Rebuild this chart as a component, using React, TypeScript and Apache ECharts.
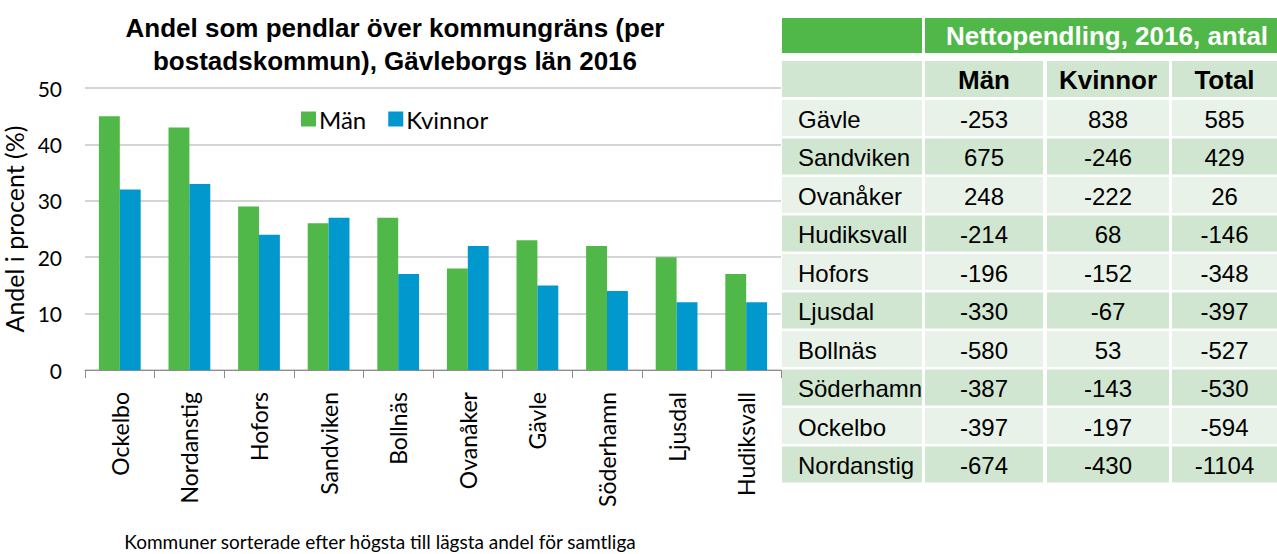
import React, { useEffect, useRef } from "react";
import * as echarts from "echarts";

const categories = ["Ockelbo", "Nordanstig", "Hofors", "Sandviken", "Bollnäs", "Ovanåker", "Gävle", "Söderhamn", "Ljusdal", "Hudiksvall"];
const manValues = [45, 43, 29, 26, 27, 18, 23, 22, 20, 17];
const kvinnorValues = [32, 33, 24, 27, 17, 22, 15, 14, 12, 12];
const yTicks = [0, 10, 20, 30, 40, 50];

const tableTitle = "Nettopendling, 2016, antal";
const tableHeaders = ["Män", "Kvinnor", "Total"];
const tableNames = ["Gävle", "Sandviken", "Ovanåker", "Hudiksvall", "Hofors", "Ljusdal", "Bollnäs", "Söderhamn", "Ockelbo", "Nordanstig"];
const tableMan = [-253, 675, 248, -214, -196, -330, -580, -387, -397, -674];
const tableKvinnor = [838, -246, -222, 68, -152, -67, 53, -143, -197, -430];
const tableTotal = [585, 429, 26, -146, -348, -397, -527, -530, -594, -1104];

const GREEN = "#50b848";
const BLUE = "#0098cd";
const DARK_ROW = "#d1e6d1";
const LIGHT_ROW = "#e9f2e9";
const SANS = "Lato";
const ARIAL = "Liberation Sans";

function buildTable(): any[] {
  const els: any[] = [];
  const colX = [782, 925, 1047, 1172];
  const colR = [922, 1043, 1169, 1277];
  els.push({ type: "rect", shape: { x: colX[0], y: 18, width: colR[0] - colX[0], height: 35 }, style: { fill: GREEN } });
  els.push({ type: "rect", shape: { x: colX[1], y: 18, width: colR[3] - colX[1], height: 35 }, style: { fill: GREEN } });
  els.push({
    type: "text", x: 1107, y: 36,
    style: { text: tableTitle, fill: "#ffffff", fontFamily: ARIAL, fontWeight: "bold", fontSize: 26, align: "center", verticalAlign: "middle" },
  });
  for (let c = 0; c < 4; c++) {
    els.push({ type: "rect", shape: { x: colX[c], y: 61, width: colR[c] - colX[c], height: 36 }, style: { fill: DARK_ROW } });
    if (c > 0) {
      els.push({
        type: "text", x: (colX[c] + colR[c]) / 2, y: 80,
        style: { text: tableHeaders[c - 1], fill: "#000000", fontFamily: ARIAL, fontWeight: "bold", fontSize: 26, align: "center", verticalAlign: "middle" },
      });
    }
  }
  tableNames.forEach((name, i) => {
    const top = 100 + i * 38.5;
    const fill = i % 2 === 0 ? LIGHT_ROW : DARK_ROW;
    const vals = [tableMan[i], tableKvinnor[i], tableTotal[i]];
    for (let c = 0; c < 4; c++) {
      els.push({ type: "rect", shape: { x: colX[c], y: top, width: colR[c] - colX[c], height: 36 }, style: { fill } });
      if (c === 0) {
        els.push({
          type: "text", x: 798, y: top + 19,
          style: { text: name, fill: "#000000", fontFamily: ARIAL, fontSize: 24, align: "left", verticalAlign: "middle" },
        });
      } else {
        els.push({
          type: "text", x: (colX[c] + colR[c]) / 2, y: top + 19,
          style: { text: String(vals[c - 1]), fill: "#000000", fontFamily: ARIAL, fontSize: 24, align: "center", verticalAlign: "middle" },
        });
      }
    }
  });
  els.push({
    type: "text", x: 380, y: 541,
    style: { text: "Kommuner sorterade efter högsta till lägsta andel för samtliga", fill: "#000000", fontFamily: SANS, fontSize: 19, align: "center", verticalAlign: "middle" },
  });
  return els;
}

export default function App() {
  const ref = useRef<HTMLDivElement>(null);
  useEffect(() => {
    if (!ref.current) return;
    const chart = echarts.init(ref.current, undefined, { renderer: "svg" });
    chart.setOption({
      animation: false,
      backgroundColor: "#ffffff",
      title: {
        text: "Andel som pendlar över kommungräns (per\nbostadskommun), Gävleborgs län 2016",
        left: 390,
        top: 6,
        textAlign: "center",
        textStyle: { fontFamily: ARIAL, fontWeight: "bold", fontSize: 26, lineHeight: 33, color: "#000000" },
      },
      legend: {
        data: ["Män", "Kvinnor"],
        left: 296,
        top: 102,
        itemWidth: 15,
        itemHeight: 15,
        itemGap: 22,
        icon: "rect",
        textStyle: { fontFamily: SANS, fontSize: 24, color: "#000000", padding: [0, 0, 0, -2] },
      },
      grid: { left: 85, right: 496, top: 88, bottom: 184, containLabel: false, outerBoundsMode: "none" },
      xAxis: {
        type: "category",
        data: categories,
        axisLine: { lineStyle: { color: "#8c8c8c", width: 1 } },
        axisTick: { show: true, length: 8, lineStyle: { color: "#8c8c8c" } },
        axisLabel: { rotate: 90, margin: 22, fontFamily: SANS, fontSize: 23, color: "#000000" },
      },
      yAxis: {
        type: "value",
        min: yTicks[0],
        max: yTicks[yTicks.length - 1],
        interval: 10,
        axisLine: { show: false },
        axisTick: { show: false },
        splitLine: { lineStyle: { color: "#d4d4d4", width: 2 } },
        axisLabel: { margin: 23, fontFamily: SANS, fontSize: 21, color: "#000000" },
        name: "Andel i procent (%)",
        nameLocation: "middle",
        nameGap: 47,
        nameRotate: 90,
        nameTextStyle: { fontFamily: SANS, fontSize: 25, color: "#000000" },
      },
      series: [
        { name: "Män", type: "bar", data: manValues, itemStyle: { color: GREEN }, barGap: "0%", barCategoryGap: "40%" },
        { name: "Kvinnor", type: "bar", data: kvinnorValues, itemStyle: { color: BLUE }, barGap: "0%", barCategoryGap: "40%" },
      ],
      graphic: buildTable(),
    });
    return () => chart.dispose();
  }, []);
  return <div ref={ref} style={{ position: "fixed", left: 0, top: 0, width: 1277, height: 554 }} />;
}
